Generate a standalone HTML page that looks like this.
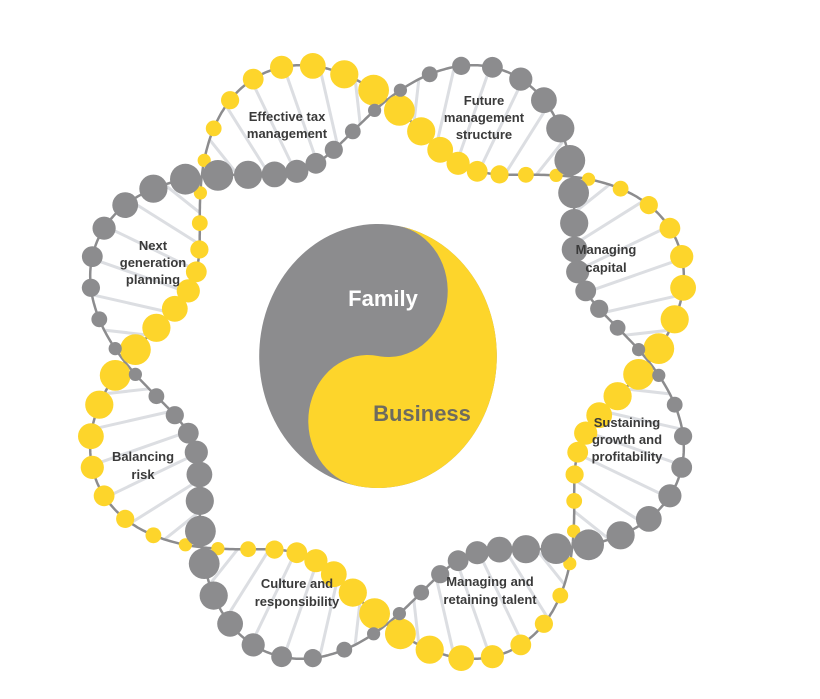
<!DOCTYPE html>
<html><head><meta charset="utf-8"><style>
html,body{margin:0;padding:0;background:#fff;width:820px;height:699px;overflow:hidden}
svg{display:block}
.lb{font-family:"Liberation Sans",sans-serif;font-weight:bold;font-size:13px;fill:#3a3a3a;text-anchor:middle}
</style></head><body>
<svg id="s" width="820" height="699" viewBox="0 0 820 699" xmlns="http://www.w3.org/2000/svg">
<g id="rungs"></g><g id="lines"></g><g id="beads"></g>
<g transform="translate(378 356) scale(0.9 1) rotate(10)">
<circle cx="0" cy="0" r="132" fill="#8c8c8e"/>
<path d="M0 -132 A132 132 0 0 1 0 132 A66 66 0 0 1 0 0 A66 66 0 0 0 0 -132Z" fill="#fdd52b"/>
</g>
<text x="383" y="306" font-family="Liberation Sans,sans-serif" font-weight="bold" font-size="22" fill="#fff" text-anchor="middle">Family</text>
<text x="422" y="421" font-family="Liberation Sans,sans-serif" font-weight="bold" font-size="22" fill="#6e6b5f" text-anchor="middle">Business</text>
<text class="lb" x="287" y="121">Effective tax</text><text class="lb" x="287" y="138">management</text>
<text class="lb" x="484" y="105">Future</text><text class="lb" x="484" y="122">management</text><text class="lb" x="484" y="139">structure</text>
<text class="lb" x="606" y="254">Managing</text><text class="lb" x="606" y="272">capital</text>
<text class="lb" x="627" y="427">Sustaining</text><text class="lb" x="627" y="444">growth and</text><text class="lb" x="627" y="461">profitability</text>
<text class="lb" x="490" y="586">Managing and</text><text class="lb" x="490" y="604">retaining talent</text>
<text class="lb" x="297" y="588">Culture and</text><text class="lb" x="297" y="606">responsibility</text>
<text class="lb" x="143" y="461">Balancing</text><text class="lb" x="143" y="479">risk</text>
<text class="lb" x="153" y="250">Next</text><text class="lb" x="153" y="267">generation</text><text class="lb" x="153" y="284">planning</text>
</svg>
<script>
var NS="http://www.w3.org/2000/svg";
var cx=387,cy=362,R=262,A=52,Y="#fdd52b",G="#8c8c8e";
function mk(p,t,a){var e=document.createElementNS(NS,t);for(var k in a)e.setAttribute(k,a[k]);document.getElementById(p).appendChild(e);}
function pt(th,r){return [cx+r*Math.cos(th),cy+r*Math.sin(th)];}
function rad(s,th){var ph=4*(th+Math.PI/2);var v=Math.sin(ph);return s==0?R-A*v:R+A*v;}
[0,1].forEach(function(s){var d="";for(var i=0;i<=720;i++){var th=-Math.PI/2+i/720*2*Math.PI;var p=pt(th,rad(s,th));d+=(i?"L":"M")+p[0].toFixed(1)+" "+p[1].toFixed(1);}
mk("lines","path",{d:d,fill:"none",stroke:"#8c8c8e","stroke-width":2.5});});
var seg=Math.PI/4,n=8;
for(var k=0;k<8;k++){
 var a0=-Math.PI/2+k*seg;
 for(var j=1;j<7;j++){var th=a0+seg*j/7;var p1=pt(th,rad(0,th)),p2=pt(th,rad(1,th));
  mk("rungs","line",{x1:p1[0],y1:p1[1],x2:p2[0],y2:p2[1],stroke:"#dcdee2","stroke-width":3});}
 for(var i=0;i<n;i++){var t=(i+0.5)/n;var th=a0+seg*t;
  [0,1].forEach(function(s){var r=rad(s,th);var outer=r>=R;var br=outer?(6+10*t):(16-10*t);
   var p=pt(th,r);mk("beads","circle",{cx:p[0].toFixed(1),cy:p[1].toFixed(1),r:br.toFixed(1),fill:s==0?Y:G});});
 }
}
</script>
</body></html>
